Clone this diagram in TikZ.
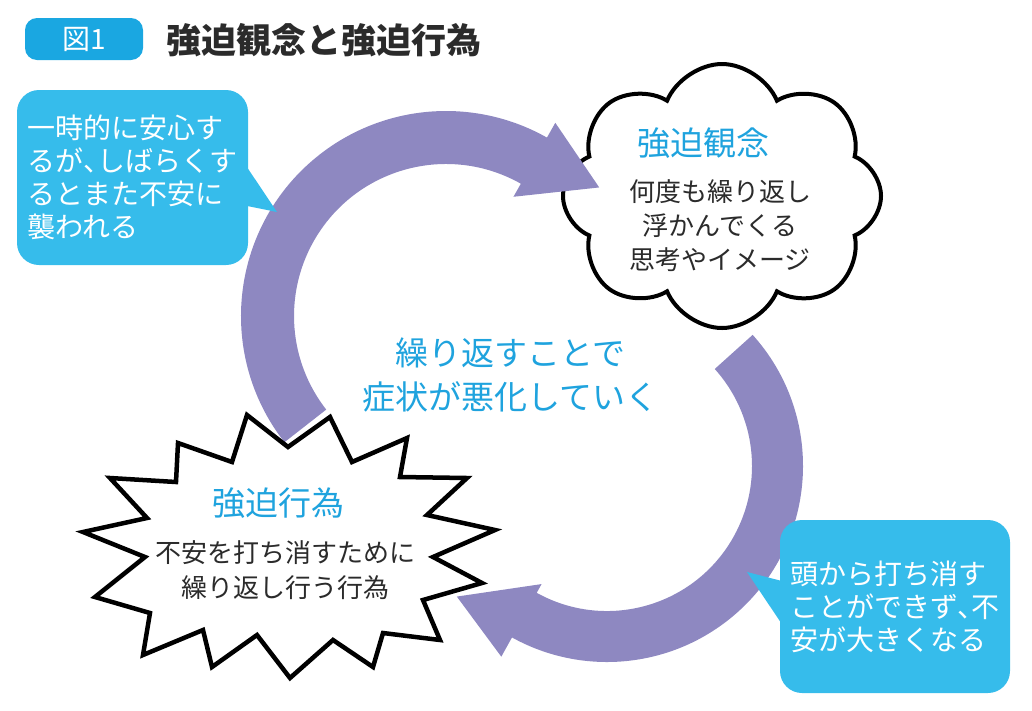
\documentclass[tikz,border=0pt]{standalone}
\usepackage{fontspec}
\newfontfamily\jpfont{Noto Sans CJK JP}
\usetikzlibrary{positioning,calc,shapes.symbols}

\definecolor{bandpurple}{HTML}{8E88C1}
\definecolor{boxcyan}{HTML}{36BCEB}
\definecolor{headcyan}{HTML}{1FA3DE}
\definecolor{titlecyan}{HTML}{1AA7E1}
\definecolor{inkgray}{HTML}{2B2B2B}

\tikzset{
  callout/.style={fill=boxcyan, rounded corners=22pt, text=white, align=left, inner sep=0pt,
    font=\jpfont\fontsize{28}{33}\selectfont},
  bubbletext/.style={align=center, text=inkgray, font=\jpfont\fontsize{26}{34}\selectfont},
  heading/.style={text=headcyan, align=center, font=\jpfont\fontsize{33}{44}\selectfont},
  band/.style={fill=bandpurple},
}

\begin{document}
\begin{tikzpicture}[x=1pt,y=-1pt]
    \useasboundingbox (0,0) rectangle (1032,710);

    % title
    \node[fill=titlecyan, rounded corners=12pt, minimum width=118pt, minimum height=42pt,
      text=white, font=\jpfont\fontsize{28}{28}\selectfont] (fig) at (84,39) {図1};
    \node[anchor=west, text=inkgray, font=\jpfont\bfseries\fontsize{35}{40}\selectfont] (title) at (163,40) {強迫観念と強迫行為};

    % obsession cloud
    \node[cloud, cloud puffs=8, cloud puff arc=135, cloud ignores aspect, draw, line width=4pt, fill=white,
      minimum width=318pt, minimum height=264pt] (obsession) at (722,196) {};
    \node[heading] (obsTitle) at (703,143) {強迫観念};
    \node[bubbletext] (obsText) at (720,226) {何度も繰り返し\\浮かんでくる\\思考やイメージ};

    % cycle arrows
    \coordinate (up) at (446,316);
    \coordinate (lo) at (607,466);
    \fill[band] ($(up)+(142:205)$) arc[start angle=142, end angle=299.5, radius=205]
      -- ($(up)+(299.5:222)$) -- ($(up)+(320:200)$) -- ($(up)+(299.5:137)$)
      -- ($(up)+(299.5:152)$) arc[start angle=299.5, end angle=142, radius=152] -- cycle;
    \fill[band] ($(lo)+(-42:196)$) arc[start angle=-42, end angle=119, radius=196]
      -- ($(lo)+(119:218)$) -- ($(lo)+(139:199)$) -- ($(lo)+(119:135)$)
      -- ($(lo)+(119:145)$) arc[start angle=119, end angle=-42, radius=145] -- cycle;

    % compulsion burst
    \draw[line width=4.5pt, fill=white, line join=miter, miter limit=10]
      (247,415) -- (288,447) -- (330,417) -- (352,462) -- (407,438) -- (400,477)
      -- (467,478) -- (427,515) -- (495,530) -- (433,557) -- (482,583) -- (423,600)
      -- (440,640) -- (383,633) -- (373,667) -- (333,640) -- (290,678) -- (257,635)
      -- (212,667) -- (203,630) -- (143,655) -- (150,613) -- (95,597) -- (145,557)
      -- (83,532) -- (147,518) -- (110,478) -- (176,482) -- (178,443) -- (232,462) -- cycle;
    \node[heading] (compTitle) at (278,503) {強迫行為};
    \node[bubbletext, font=\jpfont\fontsize{26}{35}\selectfont] (compText) at (285,570) {不安を打ち消すために\\繰り返し行う行為};

    \node[heading] (cycleText) at (510,375) {繰り返すことで\\症状が悪化していく};

    % callouts
    \node[callout, minimum width=231pt, minimum height=175pt] (relief) at (132.5,177.5)
      {一時的に安心す\\るが、\kern-.5em しばらくす\\るとまた不安に\\襲われる};
    \coordinate (reliefTip) at (277,212);
    \fill[boxcyan] ($(relief.east)+(-6,-17.5)$) -- (reliefTip) -- ($(relief.east)+(-6,27.5)$) -- cycle;

    \node[callout, minimum width=230pt, minimum height=173pt] (anxiety) at (895,606.5)
      {頭から打ち消す\\ことができず、\kern-.5em 不\\安が大きくなる};
    \coordinate (anxietyTip) at (747,572);
    \fill[boxcyan] ($(anxiety.west)+(6,-24.5)$) -- (anxietyTip) -- ($(anxiety.west)+(6,23.5)$) -- cycle;
\end{tikzpicture}
\end{document}
